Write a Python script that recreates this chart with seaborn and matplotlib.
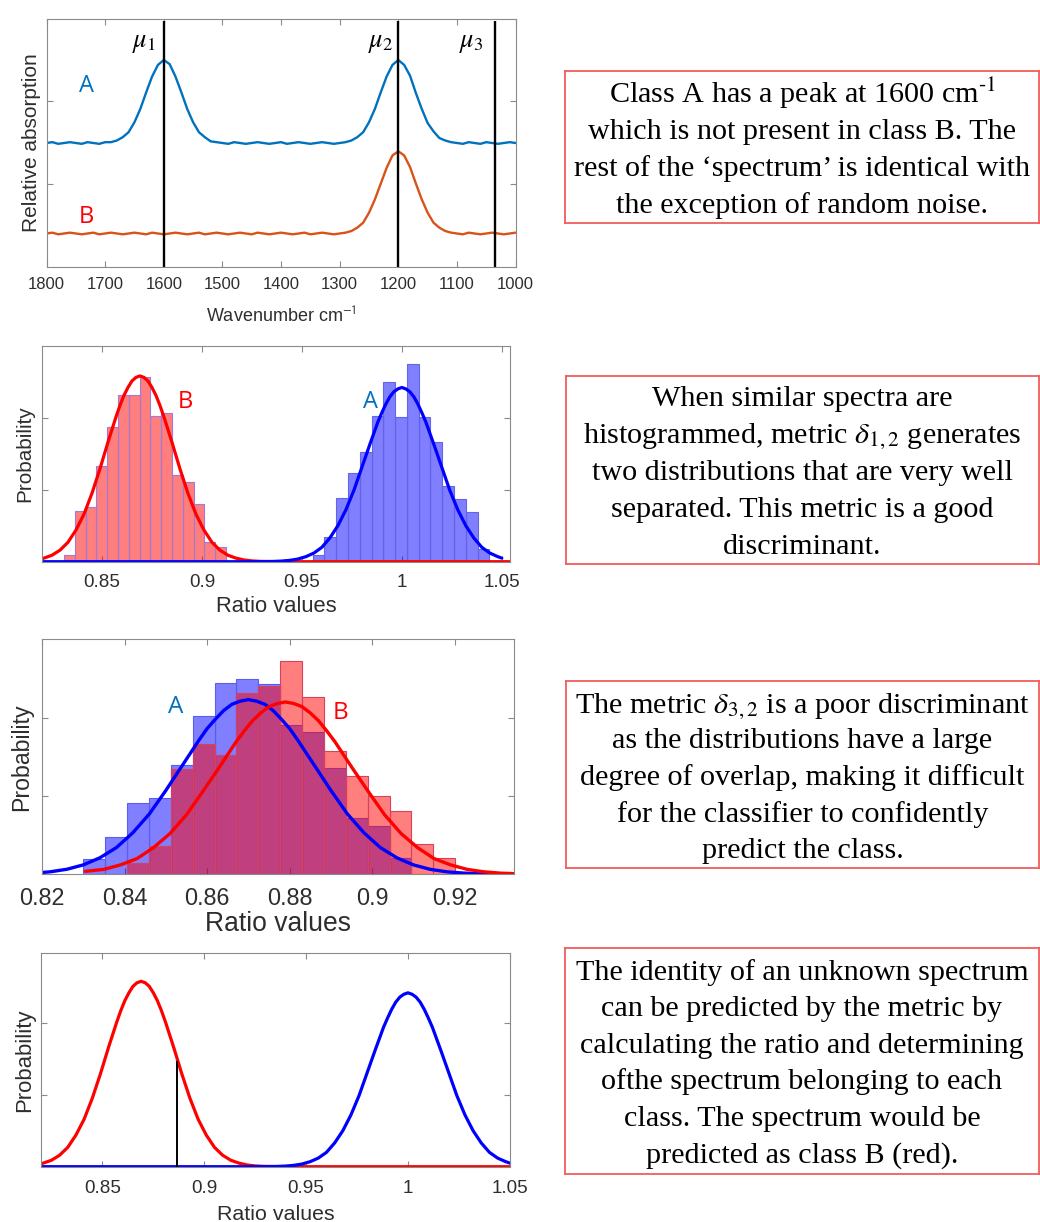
import matplotlib
matplotlib.use("Agg")
import matplotlib.pyplot as plt
import seaborn as sns

# ------------------------------------------------------------------ data
# Panel 1: simulated spectra (relative absorption, axis units)
wavenumber = [1800, 1790, 1780, 1770, 1760, 1750, 1740, 1730, 1720, 1710,
              1700, 1690, 1680, 1670, 1660, 1650, 1640, 1630, 1620, 1610,
              1600, 1590, 1580, 1570, 1560, 1550, 1540, 1530, 1520, 1510,
              1500, 1490, 1480, 1470, 1460, 1450, 1440, 1430, 1420, 1410,
              1400, 1390, 1380, 1370, 1360, 1350, 1340, 1330, 1320, 1310,
              1300, 1290, 1280, 1270, 1260, 1250, 1240, 1230, 1220, 1210,
              1200, 1190, 1180, 1170, 1160, 1150, 1140, 1130, 1120, 1110,
              1100, 1090, 1080, 1070, 1060, 1050, 1040, 1030, 1020, 1010,
              1000]
spectrum_A = [1.49, 1.50, 1.48, 1.49, 1.50, 1.49, 1.48, 1.50, 1.49, 1.48,
              1.50, 1.50, 1.52, 1.56, 1.62, 1.74, 1.90, 2.10, 2.29, 2.43,
              2.49, 2.44, 2.29, 2.10, 1.90, 1.74, 1.62, 1.56, 1.51, 1.50,
              1.49, 1.48, 1.50, 1.49, 1.48, 1.49, 1.50, 1.49, 1.48, 1.49,
              1.50, 1.48, 1.49, 1.50, 1.49, 1.48, 1.49, 1.50, 1.49, 1.48,
              1.49, 1.50, 1.52, 1.56, 1.62, 1.74, 1.90, 2.10, 2.29, 2.43,
              2.49, 2.43, 2.30, 2.09, 1.90, 1.73, 1.63, 1.55, 1.52, 1.50,
              1.49, 1.48, 1.50, 1.49, 1.48, 1.50, 1.49, 1.48, 1.49, 1.50,
              1.49]
spectrum_B = [0.40, 0.41, 0.39, 0.40, 0.41, 0.40, 0.39, 0.40, 0.41, 0.39,
              0.40, 0.41, 0.40, 0.39, 0.40, 0.41, 0.40, 0.39, 0.41, 0.40,
              0.39, 0.40, 0.41, 0.40, 0.39, 0.40, 0.41, 0.39, 0.40, 0.41,
              0.40, 0.39, 0.40, 0.41, 0.40, 0.39, 0.41, 0.40, 0.39, 0.40,
              0.41, 0.40, 0.39, 0.40, 0.41, 0.39, 0.40, 0.41, 0.40, 0.39,
              0.40, 0.41, 0.43, 0.47, 0.53, 0.65, 0.81, 1.00, 1.19, 1.34,
              1.39, 1.34, 1.20, 1.00, 0.81, 0.65, 0.53, 0.47, 0.43, 0.41,
              0.40, 0.39, 0.41, 0.40, 0.39, 0.40, 0.41, 0.40, 0.39, 0.40,
              0.41]
mu_positions = [1600, 1200, 1035]
mu_names = [r"$\mu_1$", r"$\mu_2$", r"$\mu_3$"]
p1_xticks = [1800, 1700, 1600, 1500, 1400, 1300, 1200, 1100, 1000]
p1_xticklabels = ["1800", "1700", "1600", "1500", "1400", "1300", "1200", "1100", "1000"]

# Panel 2: metric delta_{1,2} histograms (bin edges, bar heights)
p2_B_edges = [0.8310, 0.8364, 0.8418, 0.8472, 0.8526, 0.8580, 0.8634, 0.8688,
              0.8742, 0.8796, 0.8850, 0.8904, 0.8958, 0.9012, 0.9066, 0.9120]
p2_B_heights = [0.10, 0.70, 0.76, 1.33, 1.87, 2.31, 2.31, 2.57, 2.02, 2.07,
                1.20, 1.10, 0.80, 0.28, 0.21]
p2_A_edges = [0.9554, 0.9613, 0.9672, 0.9731, 0.9790, 0.9849, 0.9907, 0.9966,
              1.0025, 1.0084, 1.0143, 1.0202, 1.0261, 1.0320, 1.0379, 1.0438]
p2_A_heights = [0.09, 0.35, 0.89, 1.23, 1.53, 2.02, 2.50, 2.01, 2.74, 2.01,
                1.66, 1.05, 0.87, 0.69, 0.18]

# Fitted distribution curves (used in panels 2 and 4)
fit_B_x = [0.820, 0.821, 0.825, 0.829, 0.833, 0.837, 0.841, 0.845, 0.849, 0.853,
           0.857, 0.859, 0.861, 0.863, 0.865, 0.867, 0.869, 0.871, 0.873, 0.875,
           0.877, 0.879, 0.881, 0.885, 0.889, 0.893, 0.897, 0.901, 0.905, 0.909,
           0.913, 0.917, 0.921, 0.925, 0.929, 0.935, 0.950, 1.054]
fit_B_y = [0.04, 0.05, 0.09, 0.16, 0.27, 0.44, 0.66, 0.95, 1.29, 1.66,
           2.01, 2.17, 2.31, 2.42, 2.51, 2.56, 2.58, 2.56, 2.51, 2.42,
           2.31, 2.17, 2.01, 1.66, 1.29, 0.95, 0.66, 0.44, 0.27, 0.16,
           0.09, 0.05, 0.024, 0.011, 0.005, 0.001, 0.0, 0.0]
fit_A_x = [0.820, 0.920, 0.930, 0.936, 0.940, 0.944, 0.948, 0.952, 0.956, 0.960,
           0.964, 0.968, 0.972, 0.976, 0.980, 0.984, 0.988, 0.990, 0.992, 0.994,
           0.996, 0.998, 1.000, 1.002, 1.004, 1.006, 1.008, 1.010, 1.012, 1.016,
           1.020, 1.024, 1.028, 1.032, 1.036, 1.040, 1.044, 1.048, 1.050]
fit_A_y = [0.0, 0.0, 0.001, 0.004, 0.009, 0.019, 0.037, 0.07, 0.12, 0.20,
           0.33, 0.50, 0.72, 0.99, 1.31, 1.63, 1.94, 2.07, 2.19, 2.29,
           2.36, 2.40, 2.42, 2.40, 2.36, 2.29, 2.19, 2.07, 1.94, 1.63,
           1.31, 0.99, 0.72, 0.50, 0.33, 0.20, 0.12, 0.07, 0.05]
p24_xticks = [0.85, 0.9, 0.95, 1.0, 1.05]
p24_xticklabels = ["0.85", "0.9", "0.95", "1", "1.05"]

# Panel 3: metric delta_{3,2} histograms and fits
p3_edges = [0.8300, 0.8353, 0.8406, 0.8459, 0.8512, 0.8565, 0.8618, 0.8671, 0.8724,
            0.8777, 0.8830, 0.8883, 0.8936, 0.8989, 0.9042, 0.9095, 0.9148, 0.9201]
p3_A_heights = [0.19, 0.47, 0.91, 0.98, 1.39, 2.02, 2.44, 2.49, 2.43, 1.90,
                1.82, 1.36, 0.72, 0.62, 0.21]
p3_B_heights = [0.145, 0.36, 1.34, 1.66, 1.52, 2.31, 2.40, 2.72, 2.26, 1.57,
                1.26, 1.00, 0.81, 0.39, 0.21]
p3_fit_A_x = [0.820, 0.822, 0.826, 0.830, 0.834, 0.838, 0.842, 0.846, 0.850, 0.854,
              0.858, 0.860, 0.862, 0.864, 0.866, 0.868, 0.870, 0.872, 0.874, 0.876,
              0.878, 0.880, 0.882, 0.886, 0.890, 0.894, 0.898, 0.902, 0.906, 0.910,
              0.914, 0.918, 0.922, 0.926, 0.929]
p3_fit_A_y = [0.023, 0.032, 0.064, 0.12, 0.21, 0.34, 0.53, 0.77, 1.07, 1.39,
              1.71, 1.86, 1.98, 2.09, 2.17, 2.21, 2.23, 2.21, 2.17, 2.09,
              1.98, 1.86, 1.71, 1.39, 1.07, 0.77, 0.53, 0.34, 0.21, 0.12,
              0.064, 0.032, 0.016, 0.007, 0.004]
p3_fit_B_x = [0.8305, 0.835, 0.839, 0.843, 0.847, 0.851, 0.855, 0.859, 0.863, 0.867,
              0.869, 0.871, 0.873, 0.875, 0.877, 0.879, 0.881, 0.883, 0.885, 0.887,
              0.889, 0.891, 0.895, 0.899, 0.903, 0.907, 0.911, 0.915, 0.919, 0.923,
              0.927, 0.931, 0.9345]
p3_fit_B_y = [0.038, 0.063, 0.12, 0.20, 0.34, 0.52, 0.76, 1.06, 1.37, 1.69,
              1.83, 1.96, 2.06, 2.14, 2.18, 2.20, 2.18, 2.14, 2.06, 1.96,
              1.83, 1.69, 1.37, 1.06, 0.76, 0.52, 0.34, 0.20, 0.12, 0.063,
              0.032, 0.015, 0.008]
p3_xticks = [0.82, 0.84, 0.86, 0.88, 0.90, 0.92]
p3_xticklabels = ["0.82", "0.84", "0.86", "0.88", "0.9", "0.92"]

# Panel 4: unknown spectrum ratio
unknown_ratio = [0.8865]
unknown_height = [1.47]

# Text boxes
box_texts = [
    [r"Class A has a peak at 1600 cm$^{\text{-1}}$",
     "which is not present in class B. The",
     "rest of the \u2018spectrum\u2019 is identical with",
     "the exception of random noise."],
    ["When similar spectra are",
     r"histogrammed, metric $\delta_{1,2}$ generates",
     "two distributions that are very well",
     "separated. This metric is a good",
     "discriminant."],
    [r"The metric $\delta_{3,2}$ is a poor discriminant",
     "as the distributions have a large",
     "degree of overlap, making it difficult",
     "for the classifier to confidently",
     "predict the class."],
    ["The identity of an unknown spectrum",
     "can be predicted by the metric by",
     "calculating the ratio and determining",
     "ofthe spectrum belonging to each",
     "class. The spectrum would be",
     "predicted as class B (red)."],
]

# ------------------------------------------------------------------ style
sns.set_style("white")
plt.rcParams["font.family"] = ["Liberation Sans", "DejaVu Sans"]
plt.rcParams["mathtext.fontset"] = "stix"

W, H = 1040, 1222
fig = plt.figure(figsize=(W / 100, H / 100), dpi=100)


def rect(l, t, r, b):
    return [l / W, 1 - b / H, (r - l) / W, (b - t) / H]


AX_COLOR = "#8a8a8a"
TXT = "#2e2e2e"
BLUE_LBL = "#0070C0"
RED_LBL = "#FF0000"


def style(ax, xticks, xlabels, xlim, ylim, tick_size, pad):
    ax.set_xlim(*xlim)
    ax.set_ylim(*ylim)
    ax.set_xticks(xticks)
    ax.set_xticklabels(xlabels)
    ax.set_yticks([1, 2])
    ax.tick_params(axis="both", direction="in", length=4, width=0.8,
                   colors=AX_COLOR, labelcolor=TXT, top=True, right=True,
                   bottom=True, left=True, labelsize=tick_size, pad=pad)
    ax.tick_params(axis="y", labelleft=False, labelright=False)
    for sp in ax.spines.values():
        sp.set_visible(True)
        sp.set_color(AX_COLOR)
        sp.set_linewidth(0.8)


def labels(ax, xl, xl_size, xl_y, yl, yl_size, yl_x):
    ax.set_xlabel(xl, fontsize=xl_size, color=TXT)
    ax.xaxis.set_label_coords(0.5, xl_y)
    ax.xaxis.label.set_verticalalignment("center")
    ax.set_ylabel(yl, fontsize=yl_size, color=TXT)
    ax.yaxis.set_label_coords(yl_x, 0.5)
    ax.yaxis.label.set_verticalalignment("center")


def centers(edges):
    return [(edges[i] + edges[i + 1]) / 2 for i in range(len(edges) - 1)]


LBL_FONT = ["Open Sans", "DejaVu Sans"]

# ------------------------------------------------------------------ panel 1
ax1 = fig.add_axes(rect(46.5, 19.3, 515.6, 266.7))
sns.lineplot(x=wavenumber, y=spectrum_A, color="#0072BD", lw=1.7, ax=ax1)
sns.lineplot(x=wavenumber, y=spectrum_B, color="#D95319", lw=1.7, ax=ax1)
ax1.vlines(mu_positions, 0, 2.96, color="black", lw=1.7)
style(ax1, p1_xticks, p1_xticklabels, (1800, 1000), (0, 2.98), 12, 7.5)
labels(ax1, r"Wavenumber cm$^{\mathsf{-1}}$", 13, -0.199,
       "Relative absorption", 15, -0.031)
for name, xpos in zip(mu_names, [1633, 1230, 1075]):
    ax1.text(xpos, 2.69, name, fontsize=19, ha="center", va="center", color="black")
ax1.text(1732, 2.18, "A", color=BLUE_LBL, fontsize=17, family=LBL_FONT,
         ha="center", va="center")
ax1.text(1732, 0.60, "B", color=RED_LBL, fontsize=17, family=LBL_FONT,
         ha="center", va="center")

# ------------------------------------------------------------------ panel 2
ax2 = fig.add_axes(rect(42.0, 345.7, 509.8, 561.7))
sns.histplot(x=centers(p2_B_edges), weights=p2_B_heights, bins=p2_B_edges,
             color="red", alpha=0.5, edgecolor="#9f7ad6", linewidth=0.8, ax=ax2)
sns.histplot(x=centers(p2_A_edges), weights=p2_A_heights, bins=p2_A_edges,
             color="blue", alpha=0.5, edgecolor="#6464e6", linewidth=0.8, ax=ax2)
sns.lineplot(x=fit_B_x, y=fit_B_y, color="red", lw=2.3, ax=ax2)
sns.lineplot(x=fit_A_x, y=fit_A_y, color="blue", lw=2.3, ax=ax2)
style(ax2, p24_xticks, p24_xticklabels, (0.82, 1.054), (0, 3.0), 13.6, 8.8)
labels(ax2, "Ratio values", 15.8, -0.2097, "Probability", 14.9, -0.0363)
ax2.text(0.8915, 2.22, "B", color=RED_LBL, fontsize=17, family=LBL_FONT,
         ha="center", va="center")
ax2.text(0.9844, 2.22, "A", color=BLUE_LBL, fontsize=17, family=LBL_FONT,
         ha="center", va="center")

# ------------------------------------------------------------------ panel 3
ax3 = fig.add_axes(rect(42.0, 639.3, 514.2, 874.3))
sns.histplot(x=centers(p3_edges[0:16]), weights=p3_A_heights, bins=p3_edges[0:16],
             color="blue", alpha=0.5, edgecolor="#5c5cf0", linewidth=0.8, ax=ax3)
sns.histplot(x=centers(p3_edges[2:18]), weights=p3_B_heights, bins=p3_edges[2:18],
             color="red", alpha=0.5, edgecolor="#d8405c", linewidth=0.8, ax=ax3)
sns.lineplot(x=p3_fit_A_x, y=p3_fit_A_y, color="blue", lw=2.4, ax=ax3)
sns.lineplot(x=p3_fit_B_x, y=p3_fit_B_y, color="red", lw=2.4, ax=ax3)
style(ax3, p3_xticks, p3_xticklabels, (0.82, 0.9344), (0, 3.0), 16.8, 9.5)
labels(ax3, "Ratio values", 19.1, -0.210, "Probability", 16.7, -0.0434)
ax3.text(0.8523, 2.13, "A", color=BLUE_LBL, fontsize=17.5, family=LBL_FONT,
         ha="center", va="center")
ax3.text(0.8922, 2.06, "B", color=RED_LBL, fontsize=17.5, family=LBL_FONT,
         ha="center", va="center")

# ------------------------------------------------------------------ panel 4
ax4 = fig.add_axes(rect(41.3, 953.3, 509.8, 1166.7))
sns.lineplot(x=fit_B_x, y=fit_B_y, color="red", lw=2.3, ax=ax4)
sns.lineplot(x=fit_A_x, y=fit_A_y, color="blue", lw=2.3, ax=ax4)
ax4.vlines(unknown_ratio, 0, unknown_height, color="black", lw=1.4)
style(ax4, p24_xticks, p24_xticklabels, (0.82, 1.05), (0, 2.97), 13.6, 9.3)
labels(ax4, "Ratio values", 15.4, -0.224, "Probability", 15.9, -0.0348)

# ------------------------------------------------------------------ text boxes
boxes = [(565, 70.7, 1039, 222.7, [102.7, 139.3, 176.0, 212.7]),
         (565.7, 375.7, 1039, 564.3, [406.0, 442.7, 480.0, 516.7, 554.0]),
         (565.7, 680.7, 1039.3, 867.7, [712.7, 748.3, 785.0, 821.7, 858.3]),
         (565, 948, 1039, 1174.3, [980.0, 1016.0, 1052.7, 1089.3, 1126.0, 1162.7])]
for (l, t, r, b, baselines), lines in zip(boxes, box_texts):
    bax = fig.add_axes(rect(l, t, r, b))
    bax.set_xticks([])
    bax.set_yticks([])
    bax.set_facecolor("white")
    for sp in bax.spines.values():
        sp.set_visible(True)
        sp.set_color("#f25c5c")
        sp.set_linewidth(1.3)
    cx = (l + r) / 2 / W
    for line, yb in zip(lines, baselines):
        fig.text(cx, 1 - yb / H, line, ha="center", va="baseline",
                 fontsize=21.7, family=["Liberation Serif", "DejaVu Serif"],
                 color="black")

fig.savefig("out.png", dpi=100)
